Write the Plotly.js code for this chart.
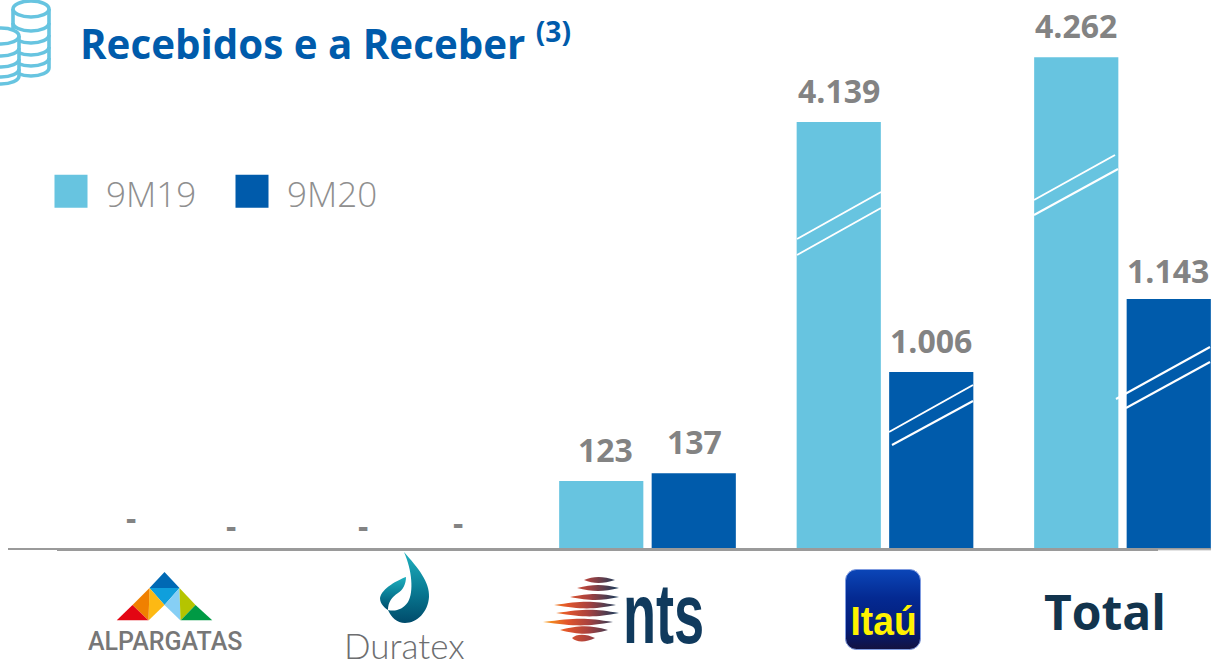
<!DOCTYPE html>
<html lang="pt">
<head>
<meta charset="utf-8">
<script src="https://cdn.plot.ly/plotly-3.0.1.min.js"></script>
<style>
html,body{margin:0;padding:0;background:#fff;overflow:hidden}
#chart{width:1211px;height:660px}
.legend .legendpoints path{transform:translate(27px,-2px) scale(2.75)}
.annotation-text{transform-box:fill-box;transform-origin:center}
.annotation[data-index="6"] .annotation-text{transform:scale(.82,1.3)}
.annotation[data-index="7"] .annotation-text{transform:scale(.93,1)}
</style>
</head>
<body>
<div id="chart"></div>
<script>
// ---- data ----
const categories = ['ALPARGATAS', 'Duratex', 'NTS', 'Itaú', 'Total'];
const seriesNames = ['9M19', '9M20'];
// Printed values (R$ mm)
const labels9M19 = ['-', '-', '123', '4.139', '4.262'];
const labels9M20 = ['-', '-', '137', '1.006', '1.143'];
// Drawn bar heights: the reference uses a broken axis, so the tall bars are shorter than their printed value
const drawn9M19 = [0, 0, 123, 782, 901];
const drawn9M20 = [0, 0, 137, 323, 457];
const titleText = 'Recebidos e a Receber <sup>(3)</sup>';

const LIGHT = '#67C4E0', DARK = '#005BAB', GREY = '#838383';
const W = 1211, H = 660, ML = 8, PB = 548, PW = W - ML;
const pxX = x => (x - ML) / PW;
const pxY = y => (PB - y) / PB;
const toX = x => (x - 172.5) / 237.5;

// ---- logos (graphics only, text stays as annotations) ----
const svgURI = (w, h, body) => 'data:image/svg+xml,' + encodeURIComponent(
  `<svg xmlns="http://www.w3.org/2000/svg" width="${w*3}" height="${h*3}" viewBox="0 0 ${w} ${h}">${body}</svg>`);
const img = (x, y, w, h, body) => ({
  source: svgURI(w, h, body), xref: 'paper', yref: 'paper',
  x: pxX(x), y: pxY(y), sizex: w / PW, sizey: h / PB,
  xanchor: 'left', yanchor: 'top', sizing: 'stretch', layer: 'above'
});

function stack(cx, top, bottom, rx, ry, arcs) {
  const s = `stroke="${LIGHT}" stroke-width="3.6" fill="#fff"`;
  let o = `<path ${s} d="M${cx-rx},${top} V${bottom} A${rx},${ry} 0 0 0 ${cx+rx},${bottom} V${top}"/>`;
  o += `<ellipse ${s} cx="${cx}" cy="${top}" rx="${rx}" ry="${ry}"/>`;
  arcs.forEach(a => { o += `<path stroke="${LIGHT}" stroke-width="3.6" fill="none" d="M${cx-rx},${a} A${rx},${ry} 0 0 0 ${cx+rx},${a}"/>`; });
  return o;
}
const coins = stack(31, 9, 68, 18, 8, [23, 35, 47, 58]) + stack(1, 36, 76, 18, 8, [48, 59, 69]);

const tri = (pts, c) => `<polygon fill="${c}" points="${pts.map(p => p.join(',')).join(' ')}"/>`;
const A=[48,0],B=[33,16],C=[63,16],M=[48,33],D=[16,33],E=[0,48.5],F=[32,48.5],G=[79,33],Hh=[96,48.5],I=[64,48.5];
const alp = tri([A,B,C],'#0069B4')+tri([B,C,M],'#0F9FDC')+tri([C,M,I],'#86CFF5')+tri([B,M,F],'#FDB913')
  +tri([B,D,F],'#F08000')+tri([D,E,F],'#E30613')+tri([C,G,I],'#B5C400')+tri([G,Hh,I],'#009A44');

const drop = `<defs><linearGradient id="g" x1="0" y1="0" x2="0" y2="1"><stop offset="0" stop-color="#1FB0BE"/><stop offset="0.5" stop-color="#0A7F97"/><stop offset="1" stop-color="#004B6B"/></linearGradient></defs>
<path fill="url(#g)" d="M24,0 C38,16 50,30 49,45 C48,60 37,71 25,71 C17,71 11,65 8,58 C16,60 23,57 28,50 C34,40 32,18 24,0 Z"/>
<path fill="url(#g)" d="M26,25 C18,28 2,36 0,46 C0,52 5,56 8,58 C8,50 12,45 18,41 C23,38 26,32 26,25 Z"/>`;

function fish(x0, x1, y, h) {
  const m = x0 + (x1 - x0) * 0.62;
  return `<path fill="url(#f)" d="M${x0},${y} C${m-10},${y-h} ${m},${y-h} ${x1},${y} C${m},${y+h} ${m-10},${y+h} ${x0},${y} Z"/>`;
}
const fishes = `<defs><linearGradient id="f" gradientUnits="userSpaceOnUse" x1="0" y1="0" x2="76" y2="0"><stop offset="0" stop-color="#F9A11B"/><stop offset="0.32" stop-color="#E2552B"/><stop offset="0.6" stop-color="#A8413F"/><stop offset="1" stop-color="#123A5C"/></linearGradient></defs>`
  + fish(41, 72, 4, 4) + fish(34, 76, 12, 4) + fish(27, 76, 21, 4) + fish(11, 73, 29, 4.5)
  + fish(13, 76, 37, 4.5) + fish(0, 70, 46, 4.5) + fish(17, 65, 54, 5) + fish(29, 52, 62, 4.5);

const itau = `<defs><linearGradient id="b" x1="0" y1="0" x2="0" y2="1"><stop offset="0" stop-color="#0B46B8"/><stop offset="0.35" stop-color="#042A92"/><stop offset="0.75" stop-color="#031C78"/><stop offset="1" stop-color="#14123F"/></linearGradient></defs>
<rect x="0.5" y="0.5" width="75" height="80" rx="11" ry="11" fill="url(#b)" stroke="#7F9BE0" stroke-width="1"/>`;

const images = [
  img(0, 0, 52, 87, coins),
  img(116.5, 572, 96, 48.5, alp),
  img(380, 552, 50, 71, drop),
  img(543, 576, 77, 66, fishes),
  img(845, 569, 76, 81, itau)
];

// ---- axis-break marks, in picture pixels ----
const breaks = [
  [797,239,881,192],[797,255,881,208],
  [889,432,973,385],[892,445,973,401],
  [1034,200,1115,155],[1034,215,1118,169],
  [1116,399,1210,347],[1126,408,1210,362]
];
const seg = (b, color, width) => ({
  type:'line', xref:'paper', yref:'paper',
  x0:pxX(b[0]), y0:pxY(b[1]), x1:pxX(b[2]), y1:pxY(b[3]),
  line:{color, width}, layer:'above'
});
const shapes = breaks.map(b => seg(b, '#FFFFFF', 2));
shapes.push(seg([57,549.5,1158,549.5], '#9A9A9A', 3));
shapes.push(seg([1158,550,1211,550], '#C9C9C9', 1));

// ---- annotations: dashes for the empty values and the brand names ----
const paperText = (text, x, y, font, extra) => Object.assign({
  text, xref:'paper', yref:'paper', x:pxX(x), y:pxY(y),
  xanchor:'center', yanchor:'middle', showarrow:false, font
}, extra || {});
const dash = {family:'"Open Sans", sans-serif', size:32, color:GREY, weight:700};
const annotations = [
  paperText(labels9M19[0], 131, 517, dash),
  paperText(labels9M20[0], 231, 525, dash),
  paperText(labels9M19[1], 363, 525, dash),
  paperText(labels9M20[1], 458, 522, dash),
  paperText(categories[0], 164.5, 641, {family:'Roboto, sans-serif', size:25, color:'#777777', weight:500}),
  paperText(categories[1], 404.5, 645, {family:'Lato, sans-serif', size:35, color:'#6D6E70', weight:300}),
  paperText(categories[2].toLowerCase(), 663.5, 613, {family:'"Liberation Sans", sans-serif', size:66, color:'#103A5D', weight:700}),
  paperText(categories[3], 883.5, 621, {family:'"Liberation Sans", sans-serif', size:40, color:'#FFF200', weight:700}),
  paperText(categories[4], 1104.5, 611, {family:'"Open Sans", sans-serif', size:48, color:'#12344D', weight:700})
];

// ---- value labels sit on top of each bar, anchored to the bar's own data value ----
const labelFont = {family:'"Open Sans", sans-serif', size:32, color:GREY, weight:700};
const valueLabels = (labels, drawn, xshift, nudgeX, nudgeY) => labels.forEach((t, i) => {
  if (t === '-') return;
  annotations.push({
    text:t, x:i, y:drawn[i], xref:'x', yref:'y', xanchor:'center', yanchor:'bottom',
    xshift:xshift + (nudgeX[i] || 0), yshift:8 + (nudgeY[i] || 0), showarrow:false, font:labelFont
  });
});
valueLabels(labels9M19, drawn9M19, -46.25, {2:4}, {});
valueLabels(labels9M20, drawn9M20, 46.25, {2:1, 4:-1}, {4:-3});

// ---- traces ----
const mk = (name, y, color) => ({
  type:'bar', name, x:categories, y, cliponaxis:false,
  marker:{color, line:{width:0}}, hoverinfo:'skip'
});
const traces = [
  mk(seriesNames[0], drawn9M19, LIGHT),
  mk(seriesNames[1], drawn9M20, DARK)
];

const layout = {
  width:W, height:H,
  margin:{l:ML, r:0, t:0, b:H-PB, pad:0},
  paper_bgcolor:'#fff', plot_bgcolor:'#fff',
  barmode:'group', bargap:0.221, bargroupgap:0.09,
  title:{text:titleText, x:80/W, xanchor:'left', xref:'container', y:1-45/H, yanchor:'middle',
    font:{family:'"Open Sans", sans-serif', size:40.3, color:'#005BAB', weight:700}},
  xaxis:{type:'category', range:[toX(ML), toX(W)], showgrid:false, zeroline:false, ticks:'',
    showticklabels:false, showline:true, linecolor:'#9A9A9A', linewidth:2, fixedrange:true},
  yaxis:{range:[0,1006], visible:false, showgrid:false, zeroline:false, fixedrange:true},
  showlegend:true,
  legend:{orientation:'h', x:pxX(44), xanchor:'left', y:pxY(164), yanchor:'top', bgcolor:'rgba(0,0,0,0)',
    itemwidth:52, entrywidth:114, entrywidthmode:'pixels', itemclick:false, itemdoubleclick:false,
    font:{family:'"Open Sans", sans-serif', size:35, color:'#8F8F8F', weight:300}},
  images, shapes, annotations
};
Plotly.newPlot('chart', traces, layout, {displayModeBar:false});
</script>
</body>
</html>
